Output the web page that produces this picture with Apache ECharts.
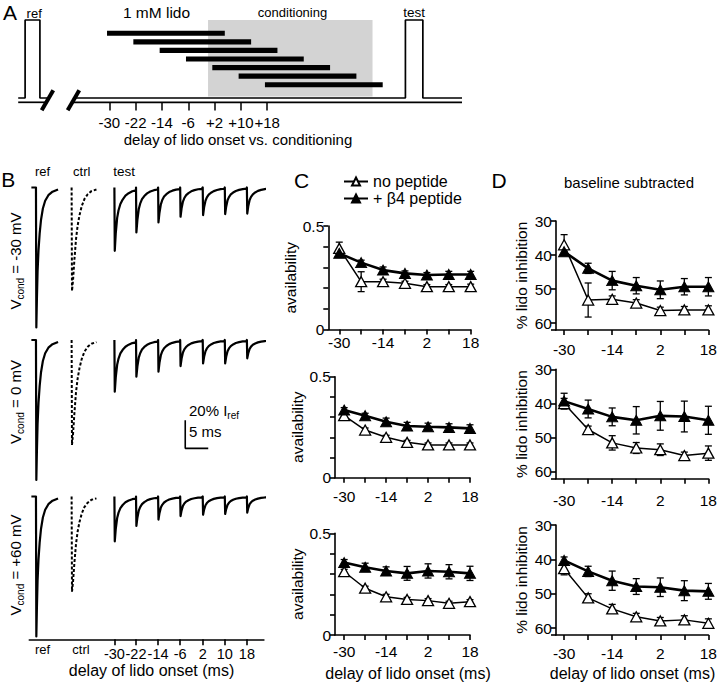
<!DOCTYPE html>
<html><head><meta charset="utf-8">
<script src="https://cdn.jsdelivr.net/npm/echarts@6/dist/echarts.min.js"></script>
<style>html,body{margin:0;padding:0;background:#fff}#c{width:720px;height:683px}</style>
</head><body><div id="c"></div>
<script>
// ---------- Panel A: protocol (ms, relative to conditioning onset) ----------
const lidoDelays = [-30, -22, -14, -6, 2, 10, 18];
const lidoBarLevels = [8.3, 7.2, 6.1, 5.0, 3.9, 2.8, 1.7];
const lidoWindow = [-0.7, 35.1];
const conditioningWindow = [0, 50];
const refPulse = [-55.6, -51.1];
const testPulse = [60.0, 65.3];
const breakMarks = [-48.8, -40.9];
const protocolSpan = [-57.7, 77.2];
const pulseLevel = 10;
const lowerLineLevel = -0.55;

// ---------- Panel B: example traces (% of I_ref, display ms) ----------
const refOnset = 1.45, ctrlOnset = 9.2;
const testOnsets = [18.5, 23.2, 28.0, 32.8, 37.7, 42.5, 47.3];
const refShapeT = [-1, 0, 0.08, 0.2, 0.35, 0.55, 0.8, 1.1, 1.5, 2.0, 2.7, 3.6, 4.8];
const refShapeF = [0, 0, 1, 0.8, 0.6, 0.45, 0.33, 0.23, 0.15, 0.095, 0.055, 0.03, 0.014];
const ctrlShapeT = [0, 0.08, 0.3, 0.6, 0.95, 1.3, 1.7, 2.2, 2.8, 3.5, 4.3, 5.4];
const ctrlShapeF = [0, 1, 0.9, 0.7, 0.5, 0.37, 0.27, 0.18, 0.11, 0.065, 0.035, 0.02];
const testShapeT = [0, 0.08, 0.3, 0.6, 0.9, 1.3, 1.8, 2.4, 3.1, 3.9, 4.7];
const testShapeF = [0, 1, 0.72, 0.48, 0.36, 0.26, 0.19, 0.13, 0.09, 0.06, 0.045];
const refPeaks = [100, 100, 100];
const ctrlPeaks = [74, 75, 68];
const testPeaksM30 = [45.2, 32.1, 25, 20.9, 19.7, 19, 18.6];
const testPeaks0 = [36.9, 26.2, 22.6, 18.6, 16.7, 16.7, 13.1];
const testPeaksP60 = [32, 21, 16.5, 14, 13, 12.5, 11.5];
const vcondLabels = ['-30 mV', '0 mV', '+60 mV'];
const scaleBarCorner = [33.9, -77.4];
const scaleBarSize = [5, 20];

// ---------- Panel C: availability ----------
const cNoPep = [
  [0.392, 0.231, 0.231, 0.223, 0.207, 0.207, 0.207],
  [0.307, 0.236, 0.200, 0.175, 0.162, 0.162, 0.162],
  [0.311, 0.230, 0.188, 0.175, 0.169, 0.156, 0.164]];
const cNoPepErr = [
  [0.03, 0.048, 0.012, 0.01, 0.01, 0.01, 0.012],
  [0.01, 0.01, 0.01, 0.01, 0.01, 0.01, 0.01],
  [0.012, 0.01, 0.012, 0.01, 0.01, 0.01, 0.01]];
const cB4 = [
  [0.368, 0.323, 0.287, 0.271, 0.263, 0.266, 0.266],
  [0.335, 0.307, 0.277, 0.256, 0.252, 0.249, 0.244],
  [0.356, 0.333, 0.315, 0.303, 0.315, 0.311, 0.303]];
const cB4Err = [
  [0.015, 0.012, 0.015, 0.012, 0.012, 0.015, 0.015],
  [0.012, 0.012, 0.018, 0.018, 0.018, 0.018, 0.018],
  [0.015, 0.02, 0.02, 0.034, 0.035, 0.035, 0.035]];

// ---------- Panel D: % lido inhibition (baseline subtracted) ----------
const dNoPep = [
  [37.0, 53.2, 53.0, 54.1, 56.3, 56.1, 56.1],
  [40.0, 47.6, 51.5, 53.0, 53.5, 55.2, 54.5],
  [42.7, 51.2, 54.4, 56.7, 57.9, 57.6, 58.6]];
const dNoPepErr = [
  [3.0, 5.0, 1.0, 1.0, 1.0, 1.0, 1.2],
  [1.5, 1.0, 2.1, 1.6, 1.7, 1.0, 2.1],
  [1.8, 1.2, 1.3, 1.0, 1.0, 1.2, 1.3]];
const dB4 = [
  [39.0, 43.9, 47.5, 49.0, 50.2, 49.3, 49.3],
  [39.3, 41.6, 43.9, 44.9, 43.6, 43.8, 44.9],
  [40.3, 43.5, 46.2, 47.9, 48.1, 49.1, 49.3]];
const dB4Err = [
  [1.0, 1.5, 2.7, 2.4, 2.6, 2.4, 2.7],
  [2.3, 2.6, 2.6, 4.0, 4.2, 4.5, 4.1],
  [1.0, 1.5, 2.8, 2.3, 2.7, 2.9, 2.3]];

const seriesNames = ['no peptide', '+ β4 peptide'];
const cTicks = [0, 0.5];
const dTicks = [30, 40, 50, 60];
const xLabelTicks = [-30, -14, 2, 18];

// ================= build =================
const FONT = '"Liberation Sans", Arial, Helvetica, sans-serif';
const BLACK = '#000';
const grids = [], xAxes = [], yAxes = [], series = [], graphics = [];
const mctx = document.createElement('canvas').getContext('2d');
function measure(t, size) { mctx.font = size + 'px ' + FONT; return mctx.measureText(t).width; }
function addGrid(g, x, y) {
  grids.push(g);
  const i = grids.length - 1;
  xAxes.push(Object.assign({ gridIndex: i }, x));
  yAxes.push(Object.assign({ gridIndex: i }, y));
  return i;
}
function txt(text, x, y, size, align) {
  graphics.push({ type: 'text', x: x, y: y, silent: true,
    style: { text: text, fontSize: size, fontFamily: FONT, fill: BLACK, align: align || 'center', verticalAlign: 'middle' } });
}
// text with a subscript part, optionally rotated; parts = [[text, size, isSub], ...]
function subText(parts, x, y, rotation, align) {
  const widths = parts.map(p => measure(p[0], p[1]));
  const total = widths.reduce((a, b) => a + b, 0);
  let off = align === 'left' ? 0 : -total / 2;
  const children = parts.map((p, i) => {
    const el = { type: 'text', x: off, y: p[2] ? 5 : 0, silent: true,
      style: { text: p[0], fontSize: p[1], fontFamily: FONT, fill: BLACK, align: 'left', verticalAlign: 'middle' } };
    off += widths[i];
    return el;
  });
  graphics.push({ type: 'group', x: x, y: y, rotation: rotation || 0, silent: true, children: children });
}
const hidden = { show: false };

// ----- Panel A -----
const gA = addGrid({ left: 18.2, top: 20, width: 443.8, height: 90.5 },
  { type: 'value', min: protocolSpan[0], max: protocolSpan[1], axisLine: { show: false, onZero: false }, splitLine: hidden,
    axisTick: { customValues: lidoDelays, inside: true, length: 8, lineStyle: { color: BLACK, width: 1.5 } },
    axisLabel: { customValues: lidoDelays, formatter: v => (v > 0 ? '+' : '') + v, color: BLACK, fontSize: 15, fontFamily: FONT, margin: 4 } },
  { type: 'value', min: -1.6, max: pulseLevel, show: false });

series.push({ type: 'custom', xAxisIndex: gA, yAxisIndex: gA, silent: true, z: 1, clip: false,
  data: [[conditioningWindow[0], conditioningWindow[1]]],
  renderItem: (p, api) => {
    const a = api.coord([api.value(0), pulseLevel]);
    const b = api.coord([api.value(1), 0.2]);
    return { type: 'rect', shape: { x: a[0], y: a[1], width: b[0] - a[0], height: b[1] - a[1] }, style: { fill: '#d3d3d3' } };
  } });
series.push({ type: 'custom', xAxisIndex: gA, yAxisIndex: gA, silent: true, z: 3, clip: false,
  data: lidoDelays.map((d, i) => [d + lidoWindow[0], d + lidoWindow[1], lidoBarLevels[i]]),
  renderItem: (p, api) => {
    const a = api.coord([api.value(0), api.value(2)]);
    const b = api.coord([api.value(1), api.value(2)]);
    return { type: 'rect', shape: { x: a[0], y: a[1] - 2.6, width: b[0] - a[0], height: 5.2 }, style: { fill: BLACK } };
  } });
function protoLine(data) {
  series.push({ type: 'line', xAxisIndex: gA, yAxisIndex: gA, silent: true, z: 2, symbol: 'none', clip: false,
    lineStyle: { color: BLACK, width: 1.7 }, data: data });
}
protoLine([[protocolSpan[0], 0], [refPulse[0], 0], [refPulse[0], pulseLevel], [refPulse[1], pulseLevel], [refPulse[1], 0], [breakMarks[0], 0]]);
protoLine([[breakMarks[1], 0], [testPulse[0], 0], [testPulse[0], pulseLevel], [testPulse[1], pulseLevel], [testPulse[1], 0], [protocolSpan[1], 0]]);
protoLine([[protocolSpan[0], lowerLineLevel], [breakMarks[0], lowerLineLevel]]);
protoLine([[breakMarks[1], lowerLineLevel], [protocolSpan[1], lowerLineLevel]]);
series.push({ type: 'custom', xAxisIndex: gA, yAxisIndex: gA, silent: true, z: 4, clip: false,
  data: breakMarks.map(t => [t, lowerLineLevel / 2]),
  renderItem: (p, api) => {
    const c = api.coord([api.value(0), api.value(1)]);
    return { type: 'line', shape: { x1: c[0] - 5.8, y1: c[1] + 10, x2: c[0] + 5.8, y2: c[1] - 10 },
      style: { stroke: BLACK, lineWidth: 4 } };
  } });

txt('A', 10, 12.5, 21);
txt('ref', 34.2, 13, 13);
txt('1 mM lido', 156.5, 12.5, 15.5);
txt('conditioning', 292.5, 12.5, 13);
txt('test', 414, 12.5, 13.5);
txt('delay of lido onset vs. conditioning', 238, 139, 15);

// ----- Panel B -----
const bTops = [181.9, 334.4, 490.9];
const testPeakRows = [testPeaksM30, testPeaks0, testPeaksP60];
function shaped(onset, peak, T, F) { return T.map((t, k) => [onset + t, -peak * F[k]]); }
bTops.forEach((top, r) => {
  const last = r === 2;
  const g = addGrid({ left: 29.3, top: top, width: 234.6, height: 148.4 },
    last ? { type: 'value', min: 0, max: 51, splitLine: hidden,
        axisLine: { onZero: false, lineStyle: { color: BLACK, width: 1.6 } },
        axisTick: { customValues: testOnsets, length: 6, lineStyle: { color: BLACK, width: 1.6 } },
        axisLabel: { customValues: testOnsets, formatter: v => String(lidoDelays[testOnsets.indexOf(v)]),
          color: BLACK, fontSize: 14.5, fontFamily: FONT, margin: 7 } }
         : { type: 'value', min: 0, max: 51, show: false, axisLine: { onZero: false } },
    { type: 'value', min: -102, max: 4, show: false, axisLine: { onZero: false } });
  const solid = shaped(refOnset, refPeaks[r], refShapeT, refShapeF);
  solid.push(['-', '-']);
  testOnsets.forEach((o, k) => { shaped(o, testPeakRows[r][k], testShapeT, testShapeF).forEach(pt => solid.push(pt)); });
  series.push({ type: 'line', xAxisIndex: g, yAxisIndex: g, silent: true, symbol: 'none', connectNulls: false,
    lineStyle: { color: BLACK, width: 2.2, join: 'round' }, data: solid });
  series.push({ type: 'line', xAxisIndex: g, yAxisIndex: g, silent: true, symbol: 'none',
    lineStyle: { color: BLACK, width: 2, type: [3, 2] }, data: shaped(ctrlOnset, ctrlPeaks[r], ctrlShapeT, ctrlShapeF) });
  if (r === 1) {
    series.push({ type: 'line', xAxisIndex: g, yAxisIndex: g, silent: true, symbol: 'none', clip: false,
      lineStyle: { color: BLACK, width: 1.6 },
      data: [[scaleBarCorner[0], scaleBarCorner[1] + scaleBarSize[1]], scaleBarCorner, [scaleBarCorner[0] + scaleBarSize[0], scaleBarCorner[1]]] });
  }
});
txt('B', 8.3, 179, 21);
txt('ref', 42.5, 171.7, 13);
txt('ctrl', 81.7, 171.7, 13);
txt('test', 124, 171.7, 13.5);
const vcondCenters = [261, 402, 565];
vcondLabels.forEach((lab, r) => {
  subText([['V', 15, false], ['cond', 10, true], [' = ' + lab, 15, false]], 15, vcondCenters[r], Math.PI / 2, 'center');
});
subText([['20% I', 15, false], ['ref', 10, true]], 189, 410, 0, 'left');
txt('5 ms', 189, 431, 15, 'left');
txt('ref', 42.5, 649, 13);
txt('ctrl', 81, 649, 13);
txt('delay of lido onset (ms)', 151.5, 670, 16);

// ----- Panels C & D -----
function plot(box, xmin, ymin, ymax, inverse, yTicks, yInterval, yName, nameGap, xMargin, noPep, noPepErr, b4, b4Err) {
  const axisLineStyle = { color: BLACK, width: 1.6 };
  const g = addGrid(box,
    { type: 'value', min: xmin, max: 18, splitLine: hidden, axisLine: { onZero: false, lineStyle: axisLineStyle },
      axisTick: { customValues: lidoDelays, length: 5, lineStyle: axisLineStyle },
      axisLabel: { customValues: xLabelTicks, color: BLACK, fontSize: 15.5, fontFamily: FONT, margin: xMargin } },
    { type: 'value', min: ymin, max: ymax, inverse: inverse, splitLine: hidden, axisLine: { onZero: false, lineStyle: axisLineStyle },
      interval: yInterval,
      axisTick: { length: 5, lineStyle: axisLineStyle },
      axisLabel: { customValues: yTicks, color: BLACK, fontSize: 15.5, fontFamily: FONT, margin: 4 },
      name: yName, nameLocation: 'middle', nameGap: nameGap,
      nameTextStyle: { color: BLACK, fontSize: 15.5, fontFamily: FONT } });
  const errSeries = (vals, errs) => ({
    type: 'custom', xAxisIndex: g, yAxisIndex: g, silent: true, z: 2, clip: false,
    data: vals.map((v, i) => [lidoDelays[i], v, errs[i]]),
    renderItem: (p, api) => {
      const x = api.value(0), y = api.value(1), e = api.value(2);
      const a = api.coord([x, y - e]), b = api.coord([x, y + e]);
      const st = { stroke: BLACK, lineWidth: 1.3 };
      return { type: 'group', children: [
        { type: 'line', shape: { x1: a[0], y1: a[1], x2: b[0], y2: b[1] }, style: st },
        { type: 'line', shape: { x1: a[0] - 3.5, y1: a[1], x2: a[0] + 3.5, y2: a[1] }, style: st },
        { type: 'line', shape: { x1: b[0] - 3.5, y1: b[1], x2: b[0] + 3.5, y2: b[1] }, style: st } ] };
    } });
  series.push(errSeries(noPep, noPepErr));
  series.push(errSeries(b4, b4Err));
  series.push({ type: 'line', name: seriesNames[0], xAxisIndex: g, yAxisIndex: g, z: 3,
    symbol: 'triangle', symbolSize: [11, 10], showSymbol: true,
    itemStyle: { color: '#fff', borderColor: BLACK, borderWidth: 1.3 },
    lineStyle: { color: BLACK, width: 1.5 },
    data: noPep.map((v, i) => [lidoDelays[i], v]) });
  series.push({ type: 'line', name: seriesNames[1], xAxisIndex: g, yAxisIndex: g, z: 4,
    symbol: 'triangle', symbolSize: [11, 10], showSymbol: true,
    itemStyle: { color: BLACK, borderColor: BLACK, borderWidth: 1 },
    lineStyle: { color: BLACK, width: 2.6 },
    data: b4.map((v, i) => [lidoDelays[i], v]) });
}
const cBoxes = [
  { left: 328.3, top: 226, width: 142.4, height: 103.5 },
  { left: 335, top: 376.7, width: 135, height: 101 },
  { left: 335, top: 533.3, width: 135, height: 101.7 }];
const cXMin = [-34, -33.5, -33.5];
const cMargins = [5, 11, 8];
const cNameGaps = [20, 27, 27];
cBoxes.forEach((b, i) => plot(b, cXMin[i], 0, 0.5, false, cTicks, 0.1, 'availability', cNameGaps[i], cMargins[i],
  cNoPep[i], cNoPepErr[i], cB4[i], cB4Err[i]));
const dBoxes = [
  { left: 556, top: 221, width: 155, height: 109 },
  { left: 556, top: 369.3, width: 155, height: 109.5 },
  { left: 556, top: 525, width: 155, height: 110 }];
const dMargins = [11, 14, 10];
dBoxes.forEach((b, i) => plot(b, -32.7, 30, 62, true, dTicks, 10, '% lido inhibition', 27, dMargins[i],
  dNoPep[i], dNoPepErr[i], dB4[i], dB4Err[i]));

txt('C', 301.5, 180.5, 21);
txt('D', 499, 180, 21);
txt('baseline subtracted', 629, 182, 15);
txt('delay of lido onset (ms)', 408, 673, 16);
txt('delay of lido onset (ms)', 632.5, 673, 16);

const chart = echarts.init(document.getElementById('c'), null, { renderer: 'svg', width: 720, height: 683 });
chart.setOption({
  animation: false,
  backgroundColor: '#fff',
  textStyle: { fontFamily: FONT },
  legend: { data: seriesNames, orient: 'vertical', left: 338, top: 168.5, itemWidth: 24, itemHeight: 10, itemGap: 1,
    selectedMode: false, textStyle: { fontSize: 16, color: BLACK, fontFamily: FONT } },
  grid: grids, xAxis: xAxes, yAxis: yAxes, series: series, graphic: graphics
});
</script></body></html>
